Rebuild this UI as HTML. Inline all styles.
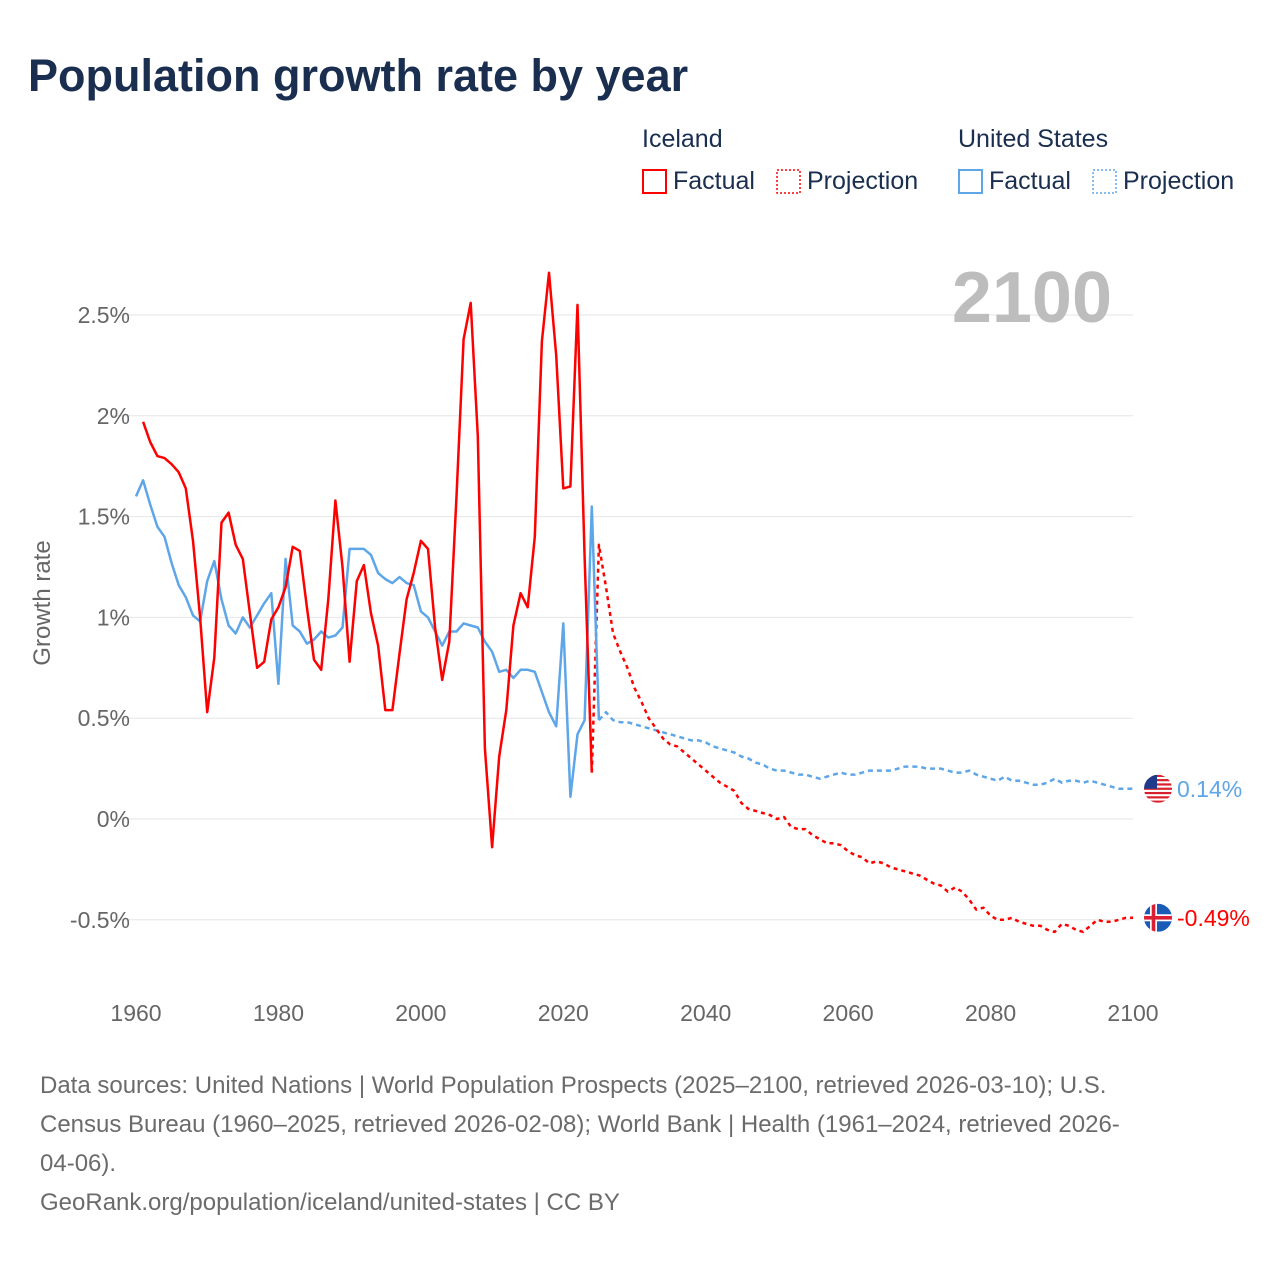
<!DOCTYPE html>
<html><head><meta charset="utf-8">
<style>
body{margin:0;background:#fff;font-family:"Liberation Sans",sans-serif;}
#wrap{position:relative;width:1280px;height:1280px;overflow:hidden;background:#fff}
h1{position:absolute;left:28px;top:50px;margin:0;font-size:45px;font-weight:bold;color:#1a2e4f;letter-spacing:0px}
.src{position:absolute;left:40px;top:1066px;width:1230px;font-size:24px;line-height:39px;color:#6b6b6b;white-space:nowrap}
</style></head><body>
<div id="wrap">
<h1>Population growth rate by year</h1>
<svg id="chart" width="1280" height="1280" style="position:absolute;left:0;top:0"></svg>
<div class="src">Data sources: United Nations | World Population Prospects (2025–2100, retrieved 2026-03-10); U.S.<br>Census Bureau (1960–2025, retrieved 2026-02-08); World Bank | Health (1961–2024, retrieved 2026-<br>04-06).<br>GeoRank.org/population/iceland/united-states | CC BY</div>
</div>
<script>
const yTicks=[-0.5,0,0.5,1,1.5,2,2.5];
const yTickLabels=["-0.5%","0%","0.5%","1%","1.5%","2%","2.5%"];
const xTicks=[1960,1980,2000,2020,2040,2060,2080,2100];
const isFactStart=1961;
const isFact=[1.97,1.87,1.80,1.79,1.76,1.72,1.64,1.38,1.00,0.53,0.80,1.47,1.52,1.36,1.29,1.02,0.75,0.78,0.99,1.05,1.15,1.35,1.33,1.05,0.79,0.74,1.09,1.58,1.25,0.78,1.18,1.26,1.02,0.86,0.54,0.54,0.82,1.09,1.22,1.38,1.34,0.95,0.69,0.88,1.60,2.38,2.56,1.90,0.35,-0.14,0.31,0.54,0.96,1.12,1.05,1.40,2.37,2.71,2.30,1.64,1.65,2.55,1.30,0.23];
const isProjStart=2024;
const isProj=[0.23,1.36,1.15,0.92,0.83,0.75,0.65,0.58,0.50,0.45,0.40,0.37,0.36,0.33,0.30,0.27,0.24,0.21,0.18,0.16,0.14,0.08,0.05,0.04,0.03,0.02,0.00,0.01,-0.04,-0.05,-0.05,-0.08,-0.10,-0.12,-0.12,-0.13,-0.16,-0.18,-0.19,-0.22,-0.21,-0.22,-0.24,-0.25,-0.26,-0.27,-0.28,-0.30,-0.32,-0.33,-0.36,-0.34,-0.36,-0.40,-0.45,-0.44,-0.48,-0.50,-0.50,-0.49,-0.51,-0.52,-0.53,-0.53,-0.55,-0.56,-0.52,-0.53,-0.55,-0.56,-0.53,-0.50,-0.51,-0.51,-0.50,-0.49,-0.49];
const usFactStart=1960;
const usFact=[1.60,1.68,1.56,1.45,1.40,1.27,1.16,1.10,1.01,0.98,1.18,1.28,1.09,0.96,0.92,1.00,0.95,1.01,1.07,1.12,0.67,1.29,0.96,0.93,0.87,0.89,0.93,0.90,0.91,0.95,1.34,1.34,1.34,1.31,1.22,1.19,1.17,1.20,1.17,1.16,1.03,1.00,0.93,0.86,0.93,0.93,0.97,0.96,0.95,0.88,0.83,0.73,0.74,0.70,0.74,0.74,0.73,0.63,0.53,0.46,0.97,0.11,0.42,0.49,1.55,0.49];
const usProjStart=2025;
const usProj=[0.49,0.53,0.49,0.48,0.48,0.47,0.46,0.45,0.44,0.43,0.42,0.41,0.40,0.39,0.39,0.38,0.36,0.35,0.34,0.33,0.31,0.30,0.28,0.27,0.25,0.24,0.24,0.23,0.22,0.22,0.21,0.20,0.21,0.22,0.23,0.22,0.22,0.23,0.24,0.24,0.24,0.24,0.25,0.26,0.26,0.26,0.25,0.25,0.25,0.24,0.23,0.23,0.24,0.22,0.21,0.20,0.19,0.21,0.19,0.19,0.18,0.17,0.17,0.18,0.20,0.18,0.19,0.19,0.18,0.19,0.18,0.17,0.16,0.15,0.15,0.15];

const NS="http://www.w3.org/2000/svg";
const svg=document.getElementById('chart');
const X=yr=>136+(yr-1960)*(1133-136)/140;
const Y=v=>819-v*201.6;
function mk(tag,attrs,parent){const e=document.createElementNS(NS,tag);for(const k in attrs)e.setAttribute(k,attrs[k]);(parent||svg).appendChild(e);return e;}
function txt(s,attrs){const t=mk('text',attrs);t.textContent=s;return t;}

yTicks.forEach((v,i)=>{
  const g=mk('line',{x1:112,x2:1133,y1:Y(v),y2:Y(v),stroke:'#e6e6e6','stroke-width':1});
  
  
  const t=txt(yTickLabels[i],{x:130,y:Y(v)+8,'text-anchor':'end','font-size':23,fill:'#666'});
  
  
});
xTicks.forEach(yr=>{
  const t=txt(String(yr),{x:X(yr),y:1021,'text-anchor':'middle','font-size':23,fill:'#666'});
  
  
});
const yt=txt('Growth rate',{x:0,y:0,'font-size':24,fill:'#666','text-anchor':'middle',transform:'translate(50,603) rotate(-90)'});


const yr=txt('2100',{x:1112,y:322,'text-anchor':'end','font-size':72,'font-weight':'bold',fill:'#bdbdbd'});



function line(arr,start,color,dash,name){
  const d=arr.map((v,i)=>(i?'L':'M')+X(start+i).toFixed(1)+' '+Y(v).toFixed(1)).join(' ');
  const p=mk('path',{d:d,fill:'none',stroke:color,'stroke-width':2.5,'stroke-linejoin':'round'});
  if(dash)p.setAttribute('stroke-dasharray',dash);
  
  
}
line(usProj,usProjStart,'#5ea6e8','5 4','us-projection-line');
line(isProj,isProjStart,'#ff0000','4 4','iceland-projection-line');
line(usFact,usFactStart,'#5ea6e8',null,'us-factual-line');
line(isFact,isFactStart,'#ff0000',null,'iceland-factual-line');

const usV=usProj[usProj.length-1], isV=isProj[isProj.length-1];
const gUS=mk('g',{});


mk('clipPath',{id:'cu'},gUS);
mk('circle',{cx:1158,cy:Y(usV),r:14},gUS.lastChild);
const fu=mk('g',{'clip-path':'url(#cu)'},gUS);
mk('rect',{x:1144,y:Y(usV)-14,width:28,height:28,fill:'#fff'},fu);
for(let k=0;k<7;k++)mk('rect',{x:1144,y:Y(usV)-14+k*4.3,width:28,height:2.2,fill:'#d8202c'},fu);
mk('rect',{x:1144,y:Y(usV)-14,width:13,height:14,fill:'#1f3a8a'},fu);
const lu=txt('0.14%',{x:1177,y:Y(usV)+8,'font-size':23,fill:'#5ea6e8'});



const gIS=mk('g',{});


mk('clipPath',{id:'ci'},gIS);
mk('circle',{cx:1158,cy:Y(isV),r:14},gIS.lastChild);
const fi=mk('g',{'clip-path':'url(#ci)'},gIS);
mk('rect',{x:1144,y:Y(isV)-14,width:28,height:28,fill:'#1a5bb8'},fi);
mk('rect',{x:1144,y:Y(isV)-3.5,width:28,height:7,fill:'#fff'},fi);
mk('rect',{x:1150,y:Y(isV)-14,width:7,height:28,fill:'#fff'},fi);
mk('rect',{x:1144,y:Y(isV)-1.8,width:28,height:3.6,fill:'#dc1e35'},fi);
mk('rect',{x:1151.7,y:Y(isV)-14,width:3.6,height:28,fill:'#dc1e35'},fi);
const li=txt(isV.toFixed(2)+'%',{x:1177,y:Y(isV)+8,'font-size':23,fill:'#ff0000'});



function legendGroup(x,title,color,name){
  const t=txt(title,{x:x,y:147,'font-size':25,fill:'#1a2e4f'});
  
  
  const r1=mk('rect',{x:x+1,y:170,width:23,height:23,fill:'none',stroke:color,'stroke-width':2});
  
  
  const t1=txt('Factual',{x:x+31,y:189,'font-size':25,fill:'#1a2e4f'});
  
  
  const r2=mk('rect',{x:x+135,y:170,width:23,height:23,fill:'none',stroke:color,'stroke-width':1.5,'stroke-dasharray':'2 2'});
  
  
  const t2=txt('Projection',{x:x+165,y:189,'font-size':25,fill:'#1a2e4f'});
  
  
}
legendGroup(642,'Iceland','#ff0000','iceland');
legendGroup(958,'United States','#5ea6e8','us');
</script>
</body></html>
